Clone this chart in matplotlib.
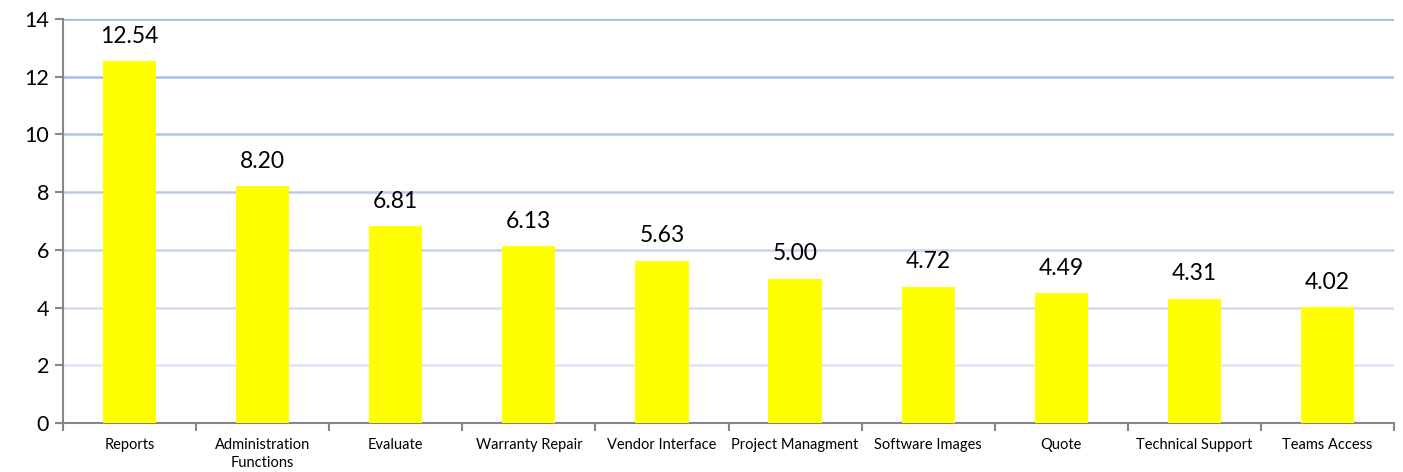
import matplotlib
matplotlib.use('Agg')
import matplotlib.pyplot as plt

plt.rcParams['font.family'] = ['Lato', 'DejaVu Sans']

# ── Data ──
categories = ['Reports', 'Administration\nFunctions', 'Evaluate', 'Warranty Repair',
              'Vendor Interface', 'Project Managment', 'Software Images', 'Quote',
              'Technical Support', 'Teams Access']
values = [12.54, 8.20, 6.81, 6.13, 5.63, 5.00, 4.72, 4.49, 4.31, 4.02]
y_ticks = [0, 2, 4, 6, 8, 10, 12, 14]

BAR = '#FFFF00'
AXIS = '#868686'

fig = plt.figure(figsize=(14.03, 4.72), dpi=100)
ax = fig.add_axes([0.0449, 0.1038, 0.9487, 0.8559])

x = list(range(len(categories)))
ax.bar(x, values, width=0.4, color=BAR, zorder=3)

for xi, v in zip(x, values):
    ax.text(xi, v + 0.5, '{:.2f}'.format(v), ha='center', va='bottom',
            fontsize=16.5, color='#000000', zorder=4)

ax.set_xlim(-0.5, len(categories) - 0.5)
ax.set_ylim(0, 14)
ax.set_yticks(y_ticks)
ax.set_yticklabels([str(t) for t in y_ticks], fontsize=15.5)
ax.set_xticks(x)
ax.set_xticklabels(categories, fontsize=10.5, linespacing=1.3)
ax.tick_params(axis='x', length=0, pad=11)
ax.tick_params(axis='y', length=6, width=1.5, color=AXIS, direction='out', pad=4)

# category boundary ticks
ax.set_xticks([i - 0.5 for i in range(len(categories) + 1)], minor=True)
ax.tick_params(axis='x', which='minor', length=6, width=1.5, color=AXIS, direction='out')

# gridlines, darker towards the top
ax.yaxis.grid(True, zorder=0)
ax.set_axisbelow(True)
grid_cols = ['#FFFFFF', '#DCE4F4', '#D2DDF2', '#C6D4EE', '#BBCCEB', '#B0C4E8', '#A7BDE6', '#9FB6E3']
for gl, c in zip(ax.get_ygridlines(), grid_cols):
    gl.set_color(c)
    gl.set_linewidth(1.8)

for side in ['top', 'right']:
    ax.spines[side].set_visible(False)
for side in ['left', 'bottom']:
    ax.spines[side].set_color(AXIS)
    ax.spines[side].set_linewidth(1.5)

plt.savefig('out.png', dpi=100, facecolor='white')
plt.close()
